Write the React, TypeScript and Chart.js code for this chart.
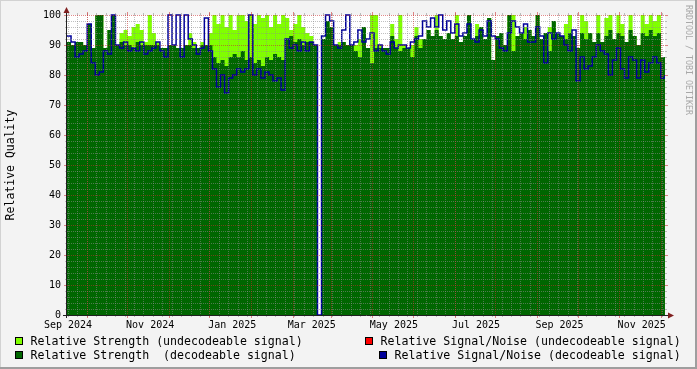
import React, { useEffect, useRef } from "react";
import { Chart, registerables } from "chart.js";

Chart.register(...registerables);

// ---- time axis (days since 1 Sep 2024) ----
const START = Date.UTC(2024, 8, 1);
const X_MIN = -0.75;
const X_MAX = 443.3;
const STEP_DAYS = 3;
const dayOf = (y: number, m: number, d: number) => (Date.UTC(y, m, d) - START) / 86400000;

const X_TICK_MONTHS: [number, number][] = [
  [2024, 8], [2024, 10], [2025, 0], [2025, 2], [2025, 4], [2025, 6], [2025, 8], [2025, 10],
];
const X_TICK_LABELS = ["Sep 2024", "Nov 2024", "Jan 2025", "Mar 2025", "May 2025", "Jul 2025", "Sep 2025", "Nov 2025"];

// ---- series (one value per 3-day step) ----
const strengthUndecodeable = [
  91, 90, 91, 91, 90, 97, 89, 100, 100, 89,
  95, 100, 90, 94, 95, 93, 96, 97, 95, 91,
  100, 94, 91, 89, 89, 90, 90, 89, 89, 90,
  94, 91, 89, 91, 90, 94, 100, 97, 100, 96,
  100, 95, 100, 100, 98, 100, 97, 100, 99, 100,
  96, 100, 97, 100, 99, 95, 97, 100, 96, 94,
  93, 90, 0, 92, 98, 96, 90, 91, 91, 90,
  90, 90, 92, 96, 89, 100, 100, 90, 89, 89,
  97, 92, 100, 90, 89, 90, 96, 92, 92, 95,
  93, 100, 93, 92, 94, 92, 100, 91, 93, 100,
  92, 97, 96, 92, 99, 85, 93, 94, 90, 100,
  100, 93, 94, 96, 95, 93, 100, 92, 94, 96,
  98, 94, 93, 97, 100, 93, 89, 100, 98, 94,
  91, 100, 91, 99, 100, 92, 100, 97, 91, 100,
  93, 90, 100, 97, 100, 98, 100, 86, 90,
];

const strengthDecodeable = [
  91, 90, 91, 91, 90, 97, 89, 100, 100, 89,
  95, 100, 90, 91, 90, 90, 89, 91, 90, 90,
  90, 90, 90, 89, 89, 90, 90, 89, 89, 90,
  90, 89, 89, 90, 90, 90, 86, 84, 85, 83,
  86, 87, 86, 88, 85, 86, 84, 85, 83, 86,
  85, 87, 86, 85, 92, 93, 91, 92, 90, 91,
  91, 90, 0, 92, 98, 96, 90, 90, 91, 90,
  90, 88, 86, 96, 89, 84, 89, 89, 89, 89,
  93, 89, 88, 89, 89, 86, 93, 89, 92, 95,
  93, 95, 93, 92, 94, 92, 93, 91, 93, 100,
  92, 93, 96, 92, 99, 85, 93, 94, 90, 100,
  88, 93, 94, 92, 95, 93, 100, 92, 94, 88,
  98, 94, 93, 92, 94, 93, 89, 94, 92, 94,
  91, 94, 91, 93, 95, 92, 94, 93, 91, 95,
  93, 90, 94, 93, 95, 93, 94, 86, 90,
];

const snrDecodeable = [
  93, 91, 86, 87, 88, 97, 84, 80, 81, 88,
  87, 100, 90, 89, 91, 88, 89, 88, 91, 87,
  88, 89, 91, 88, 86, 100, 90, 100, 86, 100,
  92, 90, 87, 89, 99, 88, 82, 76, 80, 74,
  79, 80, 82, 81, 82, 100, 80, 82, 79, 81,
  80, 78, 79, 75, 92, 89, 90, 88, 91, 88,
  91, 90, 0, 93, 100, 98, 90, 89, 95, 100,
  90, 91, 95, 91, 92, 94, 88, 90, 88, 87,
  91, 89, 90, 90, 89, 91, 92, 93, 98, 96,
  99, 96, 100, 95, 98, 94, 97, 93, 94, 97,
  92, 91, 95, 93, 98, 93, 92, 89, 88, 94,
  98, 96, 94, 97, 91, 91, 96, 93, 84, 94,
  92, 94, 93, 90, 88, 95, 78, 86, 82, 83,
  86, 90, 88, 87, 80, 85, 89, 82, 79, 86,
  85, 79, 85, 81, 84, 86, 84, 79, 80,
];

// ---- legend ----
const LEGEND_ITEMS = [
  { text: "Relative Strength (undecodeable signal)", color: "#80FF00", bx: 15, tx: 30.5, base: 345 },
  { text: "Relative Strength  (decodeable signal)", color: "#006600", bx: 15, tx: 30.5, base: 359 },
  { text: "Relative Signal/Noise (undecodeable signal)", color: "#FF0000", bx: 365, tx: 380.5, base: 345 },
  { text: "Relative Signal/Noise (decodeable signal)", color: "#000099", bx: 379, tx: 394.5, base: 359 },
];

const MONO = "'DejaVu Sans Mono', monospace";
const GRID_MINOR = "rgba(140,140,140,0.55)";
const GRID_MAJOR = "rgba(200,40,40,0.55)";

const toPoints = (arr: number[]) => arr.map((v, i) => ({ x: X_MIN + i * STEP_DAYS, y: v }));

const rrdPlugin = {
  id: "rrd",
  beforeDraw(chart: any) {
    const { ctx, chartArea: a, width, height } = chart;
    ctx.save();
    ctx.fillStyle = "#F3F3F3";
    ctx.fillRect(0, 0, width, height);
    ctx.fillStyle = "#D2D2D2";
    ctx.fillRect(0, 0, width, 1);
    ctx.fillRect(0, 0, 1, height);
    ctx.fillStyle = "#9E9E9E";
    ctx.fillRect(0, height - 2, width, 2);
    ctx.fillRect(width - 2, 0, 2, height);
    ctx.fillStyle = "#FFFFFF";
    ctx.fillRect(a.left, a.top, a.right - a.left, a.bottom - a.top);
    ctx.restore();
  },
  afterDatasetsDraw(chart: any) {
    const { ctx, chartArea: a } = chart;
    const xs = chart.scales.x;
    const ys = chart.scales.y;
    ctx.save();
    ctx.lineWidth = 1;
    const hline = (y: number, color: string, tick: number) => {
      ctx.strokeStyle = color;
      ctx.setLineDash([1, 1]);
      ctx.beginPath();
      ctx.moveTo(a.left, y);
      ctx.lineTo(a.right, y);
      ctx.stroke();
      ctx.setLineDash([]);
      ctx.beginPath();
      ctx.moveTo(a.left - tick, y);
      ctx.lineTo(a.left, y);
      ctx.moveTo(a.right, y);
      ctx.lineTo(a.right + tick, y);
      ctx.stroke();
    };
    const vline = (x: number, color: string, tick: number) => {
      ctx.strokeStyle = color;
      ctx.setLineDash([1, 1]);
      ctx.beginPath();
      ctx.moveTo(x, a.top);
      ctx.lineTo(x, a.bottom);
      ctx.stroke();
      ctx.setLineDash([]);
      ctx.beginPath();
      ctx.moveTo(x, a.top - tick);
      ctx.lineTo(x, a.top);
      ctx.moveTo(x, a.bottom);
      ctx.lineTo(x, a.bottom + tick);
      ctx.stroke();
    };
    for (let v = 2; v < 100; v += 2) {
      if (v % 10 === 0) continue;
      hline(Math.round(ys.getPixelForValue(v)) + 0.5, GRID_MINOR, 2);
    }
    for (let d = 0; d <= X_MAX; d += 7) {
      const x = Math.round(xs.getPixelForValue(d)) + 0.5;
      if (x > a.left && x < a.right) vline(x, GRID_MINOR, 2);
    }
    for (let v = 10; v <= 100; v += 10) {
      hline(Math.round(ys.getPixelForValue(v)) + 0.5, GRID_MAJOR, 3);
    }
    for (let k = 0; k < 16; k++) {
      const d = dayOf(2024, 8 + k, 15);
      if (d > X_MAX) break;
      const x = Math.round(xs.getPixelForValue(d)) + 0.5;
      vline(x, GRID_MAJOR, 3);
    }
    ctx.restore();
  },
  afterDraw(chart: any) {
    const { ctx, chartArea: a } = chart;
    ctx.save();
    // axes
    ctx.strokeStyle = "#202020";
    ctx.lineWidth = 1;
    ctx.beginPath();
    ctx.moveTo(a.left - 0.5, a.bottom + 3);
    ctx.lineTo(a.left - 0.5, a.top - 6);
    ctx.moveTo(a.left - 4, a.bottom + 0.5);
    ctx.lineTo(a.right + 5, a.bottom + 0.5);
    ctx.stroke();
    // arrows
    ctx.fillStyle = "#802020";
    ctx.beginPath();
    ctx.moveTo(a.left - 0.5, a.top - 8);
    ctx.lineTo(a.left - 3.5, a.top - 2);
    ctx.lineTo(a.left + 2.5, a.top - 2);
    ctx.closePath();
    ctx.fill();
    ctx.beginPath();
    ctx.moveTo(a.right + 9, a.bottom + 0.5);
    ctx.lineTo(a.right + 3, a.bottom - 2.5);
    ctx.lineTo(a.right + 3, a.bottom + 3.5);
    ctx.closePath();
    ctx.fill();
    // legend
    ctx.font = `11.6px ${MONO}`;
    ctx.textBaseline = "alphabetic";
    ctx.textAlign = "left";
    for (const it of LEGEND_ITEMS) {
      ctx.fillStyle = it.color;
      ctx.fillRect(it.bx, it.base - 8, 8, 8);
      ctx.strokeStyle = "#000000";
      ctx.strokeRect(it.bx + 0.5, it.base - 8 + 0.5, 7, 7);
      ctx.fillStyle = "#000000";
      ctx.fillText(it.text, it.tx, it.base);
    }
    // watermark
    ctx.translate(688, 5);
    ctx.rotate(Math.PI / 2);
    ctx.font = `8.3px ${MONO}`;
    ctx.fillStyle = "#A8A8A8";
    ctx.textBaseline = "middle";
    ctx.fillText("RRDTOOL / TOBI OETIKER", 0, 0);
    ctx.restore();
  },
};

export default function App() {
  const ref = useRef<HTMLCanvasElement | null>(null);
  useEffect(() => {
    if (!ref.current) return;
    const chart = new Chart(ref.current, {
      type: "line",
      data: {
        datasets: [
          {
            label: "Relative Strength (undecodeable signal)",
            data: toPoints(strengthUndecodeable),
            stepped: true,
            fill: "origin",
            backgroundColor: "#80FF00",
            borderColor: "rgba(0,0,0,0)",
            borderWidth: 0,
            pointRadius: 0,
            order: 3,
          },
          {
            label: "Relative Strength  (decodeable signal)",
            data: toPoints(strengthDecodeable),
            stepped: true,
            fill: "origin",
            backgroundColor: "#006600",
            borderColor: "rgba(0,0,0,0)",
            borderWidth: 0,
            pointRadius: 0,
            order: 2,
          },
          {
            label: "Relative Signal/Noise (decodeable signal)",
            data: toPoints(snrDecodeable),
            stepped: true,
            fill: false,
            borderColor: "#000099",
            borderWidth: 1.5,
            pointRadius: 0,
            order: 1,
            clip: { left: 0, right: 0, top: 2, bottom: 0 },
          } as any,
        ],
      },
      options: {
        responsive: false,
        animation: false,
        events: [],
        layout: { padding: { left: 0, top: 15, right: 32, bottom: 0 } },
        plugins: { legend: { display: false }, tooltip: { enabled: false } },
        scales: {
          x: {
            type: "linear",
            min: X_MIN,
            max: X_MAX,
            grid: { display: false, drawTicks: false },
            border: { display: false },
            afterBuildTicks: (scale: any) => {
              scale.ticks = X_TICK_MONTHS.map(([y, m]) => ({ value: dayOf(y, m, 1) }));
            },
            afterFit: (scale: any) => {
              scale.height = 54;
            },
            ticks: {
              autoSkip: false,
              maxRotation: 0,
              minRotation: 0,
              padding: 4,
              color: "#000000",
              font: { family: MONO, size: 10 },
              callback: (_v: any, i: number) => X_TICK_LABELS[i],
            },
          },
          y: {
            min: 0,
            max: 100,
            grid: { display: false, drawTicks: false },
            border: { display: false },
            afterFit: (scale: any) => {
              scale.width = 67;
            },
            ticks: {
              stepSize: 10,
              padding: 6,
              color: "#000000",
              font: { family: MONO, size: 10 },
            },
            title: {
              display: true,
              text: "Relative Quality",
              color: "#000000",
              font: { family: MONO, size: 11.5 },
              padding: { top: 4, bottom: 0 },
            },
          },
        },
      },
      plugins: [rrdPlugin],
    } as any);
    return () => chart.destroy();
  }, []);
  return (
    <div style={{ position: "fixed", left: 0, top: 0, width: 697, height: 369 }}>
      <canvas ref={ref} width={697} height={369} style={{ display: "block", width: 697, height: 369 }} />
    </div>
  );
}
